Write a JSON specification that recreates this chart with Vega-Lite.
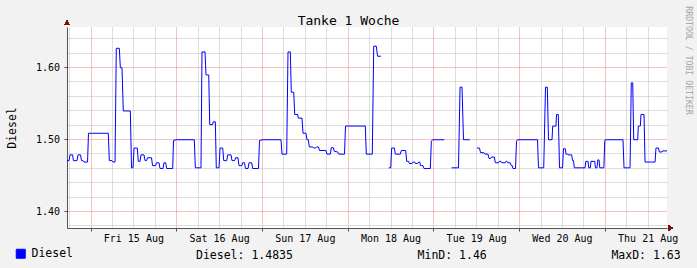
{
  "$schema": "https://vega.github.io/schema/vega-lite/v6.json",
  "width": 600,
  "height": 201,
  "autosize": {"type": "none"},
  "padding": {"left": 67, "top": 27, "right": 30, "bottom": 40},
  "background": "#f2f2f2",
  "config": {
    "view": {"stroke": null, "fill": "#ffffff"},
    "font": "DejaVu Sans Mono",
    "axis": {"labelFont": "DejaVu Sans Mono", "titleFont": "DejaVu Sans Mono", "titleFontWeight": "normal"}
  },
  "data": {
    "values": [
      {"t": "2014-08-14T17:25:00Z", "v": 1.47, "s": "A"},
      {"t": "2014-08-14T17:59:00Z", "v": 1.47, "s": "A"},
      {"t": "2014-08-14T18:16:00Z", "v": 1.478, "s": "A"},
      {"t": "2014-08-14T18:58:00Z", "v": 1.478, "s": "A"},
      {"t": "2014-08-14T19:14:00Z", "v": 1.47, "s": "A"},
      {"t": "2014-08-14T20:13:00Z", "v": 1.47, "s": "A"},
      {"t": "2014-08-14T20:30:00Z", "v": 1.478, "s": "A"},
      {"t": "2014-08-14T21:12:00Z", "v": 1.478, "s": "A"},
      {"t": "2014-08-14T21:29:00Z", "v": 1.47, "s": "A"},
      {"t": "2014-08-14T21:54:00Z", "v": 1.47, "s": "A"},
      {"t": "2014-08-14T22:11:00Z", "v": 1.468, "s": "A"},
      {"t": "2014-08-14T23:10:00Z", "v": 1.468, "s": "A"},
      {"t": "2014-08-14T23:26:00Z", "v": 1.508, "s": "A"},
      {"t": "2014-08-15T04:59:00Z", "v": 1.508, "s": "A"},
      {"t": "2014-08-15T05:16:00Z", "v": 1.47, "s": "A"},
      {"t": "2014-08-15T06:01:00Z", "v": 1.47, "s": "A"},
      {"t": "2014-08-15T06:18:00Z", "v": 1.468, "s": "A"},
      {"t": "2014-08-15T06:52:00Z", "v": 1.468, "s": "A"},
      {"t": "2014-08-15T07:13:00Z", "v": 1.626, "s": "A"},
      {"t": "2014-08-15T08:04:00Z", "v": 1.626, "s": "A"},
      {"t": "2014-08-15T08:21:00Z", "v": 1.599, "s": "A"},
      {"t": "2014-08-15T08:49:00Z", "v": 1.599, "s": "A"},
      {"t": "2014-08-15T09:11:00Z", "v": 1.539, "s": "A"},
      {"t": "2014-08-15T11:09:00Z", "v": 1.539, "s": "A"},
      {"t": "2014-08-15T11:29:00Z", "v": 1.46, "s": "A"},
      {"t": "2014-08-15T11:54:00Z", "v": 1.46, "s": "A"},
      {"t": "2014-08-15T12:11:00Z", "v": 1.4875, "s": "A"},
      {"t": "2014-08-15T13:06:00Z", "v": 1.4875, "s": "A"},
      {"t": "2014-08-15T13:23:00Z", "v": 1.469, "s": "A"},
      {"t": "2014-08-15T13:52:00Z", "v": 1.469, "s": "A"},
      {"t": "2014-08-15T14:08:00Z", "v": 1.478, "s": "A"},
      {"t": "2014-08-15T14:59:00Z", "v": 1.478, "s": "A"},
      {"t": "2014-08-15T15:16:00Z", "v": 1.47, "s": "A"},
      {"t": "2014-08-15T15:41:00Z", "v": 1.47, "s": "A"},
      {"t": "2014-08-15T15:58:00Z", "v": 1.474, "s": "A"},
      {"t": "2014-08-15T17:05:00Z", "v": 1.474, "s": "A"},
      {"t": "2014-08-15T17:22:00Z", "v": 1.463, "s": "A"},
      {"t": "2014-08-15T18:12:00Z", "v": 1.463, "s": "A"},
      {"t": "2014-08-15T18:29:00Z", "v": 1.467, "s": "A"},
      {"t": "2014-08-15T19:11:00Z", "v": 1.467, "s": "A"},
      {"t": "2014-08-15T19:28:00Z", "v": 1.459, "s": "A"},
      {"t": "2014-08-15T20:18:00Z", "v": 1.459, "s": "A"},
      {"t": "2014-08-15T20:35:00Z", "v": 1.467, "s": "A"},
      {"t": "2014-08-15T21:03:00Z", "v": 1.467, "s": "A"},
      {"t": "2014-08-15T21:20:00Z", "v": 1.459, "s": "A"},
      {"t": "2014-08-15T23:01:00Z", "v": 1.459, "s": "A"},
      {"t": "2014-08-15T23:14:00Z", "v": 1.498, "s": "A"},
      {"t": "2014-08-16T00:05:00Z", "v": 1.499, "s": "A"},
      {"t": "2014-08-16T05:04:00Z", "v": 1.499, "s": "A"},
      {"t": "2014-08-16T05:21:00Z", "v": 1.46, "s": "A"},
      {"t": "2014-08-16T06:56:00Z", "v": 1.46, "s": "A"},
      {"t": "2014-08-16T07:13:00Z", "v": 1.621, "s": "A"},
      {"t": "2014-08-16T08:04:00Z", "v": 1.621, "s": "A"},
      {"t": "2014-08-16T08:20:00Z", "v": 1.589, "s": "A"},
      {"t": "2014-08-16T09:06:00Z", "v": 1.589, "s": "A"},
      {"t": "2014-08-16T09:23:00Z", "v": 1.52, "s": "A"},
      {"t": "2014-08-16T10:13:00Z", "v": 1.52, "s": "A"},
      {"t": "2014-08-16T10:21:00Z", "v": 1.524, "s": "A"},
      {"t": "2014-08-16T10:57:00Z", "v": 1.524, "s": "A"},
      {"t": "2014-08-16T11:13:00Z", "v": 1.46, "s": "A"},
      {"t": "2014-08-16T11:59:00Z", "v": 1.46, "s": "A"},
      {"t": "2014-08-16T12:16:00Z", "v": 1.4875, "s": "A"},
      {"t": "2014-08-16T13:01:00Z", "v": 1.4875, "s": "A"},
      {"t": "2014-08-16T13:18:00Z", "v": 1.47, "s": "A"},
      {"t": "2014-08-16T14:08:00Z", "v": 1.47, "s": "A"},
      {"t": "2014-08-16T14:25:00Z", "v": 1.478, "s": "A"},
      {"t": "2014-08-16T15:20:00Z", "v": 1.478, "s": "A"},
      {"t": "2014-08-16T15:37:00Z", "v": 1.47, "s": "A"},
      {"t": "2014-08-16T16:23:00Z", "v": 1.47, "s": "A"},
      {"t": "2014-08-16T16:39:00Z", "v": 1.474, "s": "A"},
      {"t": "2014-08-16T17:18:00Z", "v": 1.474, "s": "A"},
      {"t": "2014-08-16T17:35:00Z", "v": 1.463, "s": "A"},
      {"t": "2014-08-16T18:20:00Z", "v": 1.463, "s": "A"},
      {"t": "2014-08-16T18:37:00Z", "v": 1.467, "s": "A"},
      {"t": "2014-08-16T19:07:00Z", "v": 1.467, "s": "A"},
      {"t": "2014-08-16T19:24:00Z", "v": 1.459, "s": "A"},
      {"t": "2014-08-16T20:06:00Z", "v": 1.459, "s": "A"},
      {"t": "2014-08-16T20:23:00Z", "v": 1.467, "s": "A"},
      {"t": "2014-08-16T21:08:00Z", "v": 1.467, "s": "A"},
      {"t": "2014-08-16T21:25:00Z", "v": 1.459, "s": "A"},
      {"t": "2014-08-16T23:02:00Z", "v": 1.459, "s": "A"},
      {"t": "2014-08-16T23:19:00Z", "v": 1.498, "s": "A"},
      {"t": "2014-08-17T00:18:00Z", "v": 1.499, "s": "A"},
      {"t": "2014-08-17T05:20:00Z", "v": 1.499, "s": "A"},
      {"t": "2014-08-17T05:37:00Z", "v": 1.479, "s": "A"},
      {"t": "2014-08-17T06:56:00Z", "v": 1.479, "s": "A"},
      {"t": "2014-08-17T07:18:00Z", "v": 1.621, "s": "A"},
      {"t": "2014-08-17T07:57:00Z", "v": 1.621, "s": "A"},
      {"t": "2014-08-17T08:13:00Z", "v": 1.565, "s": "A"},
      {"t": "2014-08-17T08:54:00Z", "v": 1.565, "s": "A"},
      {"t": "2014-08-17T09:11:00Z", "v": 1.534, "s": "A"},
      {"t": "2014-08-17T10:01:00Z", "v": 1.534, "s": "A"},
      {"t": "2014-08-17T10:11:00Z", "v": 1.529, "s": "A"},
      {"t": "2014-08-17T11:13:00Z", "v": 1.529, "s": "A"},
      {"t": "2014-08-17T11:30:00Z", "v": 1.508, "s": "A"},
      {"t": "2014-08-17T12:20:00Z", "v": 1.508, "s": "A"},
      {"t": "2014-08-17T12:37:00Z", "v": 1.499, "s": "A"},
      {"t": "2014-08-17T12:59:00Z", "v": 1.499, "s": "A"},
      {"t": "2014-08-17T13:16:00Z", "v": 1.489, "s": "A"},
      {"t": "2014-08-17T14:13:00Z", "v": 1.489, "s": "A"},
      {"t": "2014-08-17T14:26:00Z", "v": 1.4875, "s": "A"},
      {"t": "2014-08-17T15:00:00Z", "v": 1.4875, "s": "A"},
      {"t": "2014-08-17T15:17:00Z", "v": 1.489, "s": "A"},
      {"t": "2014-08-17T15:50:00Z", "v": 1.489, "s": "A"},
      {"t": "2014-08-17T16:07:00Z", "v": 1.484, "s": "A"},
      {"t": "2014-08-17T17:56:00Z", "v": 1.484, "s": "A"},
      {"t": "2014-08-17T18:13:00Z", "v": 1.479, "s": "A"},
      {"t": "2014-08-17T19:09:00Z", "v": 1.479, "s": "A"},
      {"t": "2014-08-17T19:25:00Z", "v": 1.488, "s": "A"},
      {"t": "2014-08-17T19:59:00Z", "v": 1.488, "s": "A"},
      {"t": "2014-08-17T20:16:00Z", "v": 1.483, "s": "A"},
      {"t": "2014-08-17T21:13:00Z", "v": 1.482, "s": "A"},
      {"t": "2014-08-17T21:30:00Z", "v": 1.479, "s": "A"},
      {"t": "2014-08-17T23:07:00Z", "v": 1.479, "s": "A"},
      {"t": "2014-08-17T23:24:00Z", "v": 1.518, "s": "A"},
      {"t": "2014-08-18T04:57:00Z", "v": 1.518, "s": "A"},
      {"t": "2014-08-18T05:13:00Z", "v": 1.479, "s": "A"},
      {"t": "2014-08-18T06:54:00Z", "v": 1.479, "s": "A"},
      {"t": "2014-08-18T07:18:00Z", "v": 1.629, "s": "A"},
      {"t": "2014-08-18T08:01:00Z", "v": 1.629, "s": "A"},
      {"t": "2014-08-18T08:22:00Z", "v": 1.615, "s": "A"},
      {"t": "2014-08-18T09:20:00Z", "v": 1.615, "s": "A"},
      {"t": "2014-08-18T11:30:00Z", "v": 1.46, "s": "B"},
      {"t": "2014-08-18T12:03:00Z", "v": 1.46, "s": "B"},
      {"t": "2014-08-18T12:20:00Z", "v": 1.4875, "s": "B"},
      {"t": "2014-08-18T13:04:00Z", "v": 1.4875, "s": "B"},
      {"t": "2014-08-18T13:21:00Z", "v": 1.479, "s": "B"},
      {"t": "2014-08-18T14:45:00Z", "v": 1.479, "s": "B"},
      {"t": "2014-08-18T15:01:00Z", "v": 1.484, "s": "B"},
      {"t": "2014-08-18T16:15:00Z", "v": 1.484, "s": "B"},
      {"t": "2014-08-18T16:32:00Z", "v": 1.469, "s": "B"},
      {"t": "2014-08-18T17:06:00Z", "v": 1.469, "s": "B"},
      {"t": "2014-08-18T17:16:00Z", "v": 1.466, "s": "B"},
      {"t": "2014-08-18T18:01:00Z", "v": 1.466, "s": "B"},
      {"t": "2014-08-18T18:18:00Z", "v": 1.468, "s": "B"},
      {"t": "2014-08-18T18:47:00Z", "v": 1.468, "s": "B"},
      {"t": "2014-08-18T19:00:00Z", "v": 1.466, "s": "B"},
      {"t": "2014-08-18T19:37:00Z", "v": 1.466, "s": "B"},
      {"t": "2014-08-18T19:54:00Z", "v": 1.468, "s": "B"},
      {"t": "2014-08-18T20:11:00Z", "v": 1.468, "s": "B"},
      {"t": "2014-08-18T20:24:00Z", "v": 1.463, "s": "B"},
      {"t": "2014-08-18T21:06:00Z", "v": 1.463, "s": "B"},
      {"t": "2014-08-18T21:23:00Z", "v": 1.459, "s": "B"},
      {"t": "2014-08-18T23:09:00Z", "v": 1.459, "s": "B"},
      {"t": "2014-08-18T23:26:00Z", "v": 1.497, "s": "B"},
      {"t": "2014-08-18T23:49:00Z", "v": 1.499, "s": "B"},
      {"t": "2014-08-19T03:04:00Z", "v": 1.499, "s": "B"},
      {"t": "2014-08-19T05:06:00Z", "v": 1.46, "s": "C"},
      {"t": "2014-08-19T07:02:00Z", "v": 1.46, "s": "C"},
      {"t": "2014-08-19T07:28:00Z", "v": 1.572, "s": "C"},
      {"t": "2014-08-19T08:01:00Z", "v": 1.572, "s": "C"},
      {"t": "2014-08-19T08:26:00Z", "v": 1.499, "s": "C"},
      {"t": "2014-08-19T10:11:00Z", "v": 1.499, "s": "C"},
      {"t": "2014-08-19T12:13:00Z", "v": 1.4875, "s": "D"},
      {"t": "2014-08-19T12:55:00Z", "v": 1.4875, "s": "D"},
      {"t": "2014-08-19T13:12:00Z", "v": 1.481, "s": "D"},
      {"t": "2014-08-19T14:11:00Z", "v": 1.481, "s": "D"},
      {"t": "2014-08-19T14:28:00Z", "v": 1.479, "s": "D"},
      {"t": "2014-08-19T15:18:00Z", "v": 1.479, "s": "D"},
      {"t": "2014-08-19T15:35:00Z", "v": 1.473, "s": "D"},
      {"t": "2014-08-19T16:03:00Z", "v": 1.473, "s": "D"},
      {"t": "2014-08-19T16:17:00Z", "v": 1.475, "s": "D"},
      {"t": "2014-08-19T17:04:00Z", "v": 1.475, "s": "D"},
      {"t": "2014-08-19T17:21:00Z", "v": 1.467, "s": "D"},
      {"t": "2014-08-19T18:18:00Z", "v": 1.467, "s": "D"},
      {"t": "2014-08-19T18:31:00Z", "v": 1.469, "s": "D"},
      {"t": "2014-08-19T18:56:00Z", "v": 1.469, "s": "D"},
      {"t": "2014-08-19T19:10:00Z", "v": 1.467, "s": "D"},
      {"t": "2014-08-19T20:07:00Z", "v": 1.467, "s": "D"},
      {"t": "2014-08-19T20:20:00Z", "v": 1.469, "s": "D"},
      {"t": "2014-08-19T20:37:00Z", "v": 1.469, "s": "D"},
      {"t": "2014-08-19T20:51:00Z", "v": 1.467, "s": "D"},
      {"t": "2014-08-19T21:33:00Z", "v": 1.467, "s": "D"},
      {"t": "2014-08-19T21:48:00Z", "v": 1.463, "s": "D"},
      {"t": "2014-08-19T22:05:00Z", "v": 1.463, "s": "D"},
      {"t": "2014-08-19T22:18:00Z", "v": 1.459, "s": "D"},
      {"t": "2014-08-19T23:00:00Z", "v": 1.459, "s": "D"},
      {"t": "2014-08-19T23:17:00Z", "v": 1.497, "s": "D"},
      {"t": "2014-08-19T23:34:00Z", "v": 1.499, "s": "D"},
      {"t": "2014-08-20T05:10:00Z", "v": 1.499, "s": "D"},
      {"t": "2014-08-20T05:26:00Z", "v": 1.46, "s": "D"},
      {"t": "2014-08-20T06:54:00Z", "v": 1.46, "s": "D"},
      {"t": "2014-08-20T07:24:00Z", "v": 1.572, "s": "D"},
      {"t": "2014-08-20T07:54:00Z", "v": 1.572, "s": "D"},
      {"t": "2014-08-20T08:14:00Z", "v": 1.499, "s": "D"},
      {"t": "2014-08-20T09:13:00Z", "v": 1.499, "s": "D"},
      {"t": "2014-08-20T09:25:00Z", "v": 1.518, "s": "D"},
      {"t": "2014-08-20T10:20:00Z", "v": 1.518, "s": "D"},
      {"t": "2014-08-20T10:29:00Z", "v": 1.534, "s": "D"},
      {"t": "2014-08-20T10:59:00Z", "v": 1.534, "s": "D"},
      {"t": "2014-08-20T11:19:00Z", "v": 1.46, "s": "D"},
      {"t": "2014-08-20T12:10:00Z", "v": 1.46, "s": "D"},
      {"t": "2014-08-20T12:26:00Z", "v": 1.4865, "s": "D"},
      {"t": "2014-08-20T12:57:00Z", "v": 1.4865, "s": "D"},
      {"t": "2014-08-20T13:08:00Z", "v": 1.479, "s": "D"},
      {"t": "2014-08-20T13:34:00Z", "v": 1.479, "s": "D"},
      {"t": "2014-08-20T13:42:00Z", "v": 1.478, "s": "D"},
      {"t": "2014-08-20T14:44:00Z", "v": 1.478, "s": "D"},
      {"t": "2014-08-20T14:58:00Z", "v": 1.47, "s": "D"},
      {"t": "2014-08-20T15:14:00Z", "v": 1.47, "s": "D"},
      {"t": "2014-08-20T15:28:00Z", "v": 1.46, "s": "D"},
      {"t": "2014-08-20T18:28:00Z", "v": 1.46, "s": "D"},
      {"t": "2014-08-20T18:41:00Z", "v": 1.469, "s": "D"},
      {"t": "2014-08-20T19:18:00Z", "v": 1.469, "s": "D"},
      {"t": "2014-08-20T19:30:00Z", "v": 1.46, "s": "D"},
      {"t": "2014-08-20T19:57:00Z", "v": 1.46, "s": "D"},
      {"t": "2014-08-20T20:08:00Z", "v": 1.469, "s": "D"},
      {"t": "2014-08-20T21:11:00Z", "v": 1.469, "s": "D"},
      {"t": "2014-08-20T21:22:00Z", "v": 1.46, "s": "D"},
      {"t": "2014-08-20T21:49:00Z", "v": 1.46, "s": "D"},
      {"t": "2014-08-20T22:03:00Z", "v": 1.471, "s": "D"},
      {"t": "2014-08-20T22:23:00Z", "v": 1.471, "s": "D"},
      {"t": "2014-08-20T22:36:00Z", "v": 1.46, "s": "D"},
      {"t": "2014-08-20T23:44:00Z", "v": 1.46, "s": "D"},
      {"t": "2014-08-21T00:00:00Z", "v": 1.498, "s": "D"},
      {"t": "2014-08-21T00:20:00Z", "v": 1.499, "s": "D"},
      {"t": "2014-08-21T05:06:00Z", "v": 1.499, "s": "D"},
      {"t": "2014-08-21T05:23:00Z", "v": 1.46, "s": "D"},
      {"t": "2014-08-21T07:04:00Z", "v": 1.46, "s": "D"},
      {"t": "2014-08-21T07:25:00Z", "v": 1.578, "s": "D"},
      {"t": "2014-08-21T07:49:00Z", "v": 1.578, "s": "D"},
      {"t": "2014-08-21T08:06:00Z", "v": 1.499, "s": "D"},
      {"t": "2014-08-21T09:13:00Z", "v": 1.499, "s": "D"},
      {"t": "2014-08-21T09:23:00Z", "v": 1.518, "s": "D"},
      {"t": "2014-08-21T09:57:00Z", "v": 1.518, "s": "D"},
      {"t": "2014-08-21T10:08:00Z", "v": 1.534, "s": "D"},
      {"t": "2014-08-21T10:59:00Z", "v": 1.534, "s": "D"},
      {"t": "2014-08-21T11:16:00Z", "v": 1.468, "s": "D"},
      {"t": "2014-08-21T14:04:00Z", "v": 1.468, "s": "D"},
      {"t": "2014-08-21T14:20:00Z", "v": 1.4875, "s": "D"},
      {"t": "2014-08-21T15:02:00Z", "v": 1.4875, "s": "D"},
      {"t": "2014-08-21T15:16:00Z", "v": 1.482, "s": "D"},
      {"t": "2014-08-21T16:01:00Z", "v": 1.482, "s": "D"},
      {"t": "2014-08-21T16:13:00Z", "v": 1.4835, "s": "D"},
      {"t": "2014-08-21T17:25:00Z", "v": 1.4835, "s": "D"}
    ]
  },
  "layer": [
    {
      "mark": {"type": "line", "opacity": 0},
      "encoding": {
        "x": {
          "field": "t", "type": "temporal",
          "scale": {"type": "utc", "domain": [{"year": 2014, "month": 8, "date": 14, "hours": 17, "minutes": 25, "utc": true}, {"year": 2014, "month": 8, "date": 21, "hours": 17, "minutes": 25, "utc": true}]},
          "axis": {
            "orient": "top",
            "values": [
              {"year": 2014, "month": 8, "date": 14, "hours": 18, "utc": true},
              {"year": 2014, "month": 8, "date": 15, "hours": 6, "utc": true},
              {"year": 2014, "month": 8, "date": 15, "hours": 12, "utc": true},
              {"year": 2014, "month": 8, "date": 15, "hours": 18, "utc": true},
              {"year": 2014, "month": 8, "date": 16, "hours": 6, "utc": true},
              {"year": 2014, "month": 8, "date": 16, "hours": 12, "utc": true},
              {"year": 2014, "month": 8, "date": 16, "hours": 18, "utc": true},
              {"year": 2014, "month": 8, "date": 17, "hours": 6, "utc": true},
              {"year": 2014, "month": 8, "date": 17, "hours": 12, "utc": true},
              {"year": 2014, "month": 8, "date": 17, "hours": 18, "utc": true},
              {"year": 2014, "month": 8, "date": 18, "hours": 6, "utc": true},
              {"year": 2014, "month": 8, "date": 18, "hours": 12, "utc": true},
              {"year": 2014, "month": 8, "date": 18, "hours": 18, "utc": true},
              {"year": 2014, "month": 8, "date": 19, "hours": 6, "utc": true},
              {"year": 2014, "month": 8, "date": 19, "hours": 12, "utc": true},
              {"year": 2014, "month": 8, "date": 19, "hours": 18, "utc": true},
              {"year": 2014, "month": 8, "date": 20, "hours": 6, "utc": true},
              {"year": 2014, "month": 8, "date": 20, "hours": 12, "utc": true},
              {"year": 2014, "month": 8, "date": 20, "hours": 18, "utc": true},
              {"year": 2014, "month": 8, "date": 21, "hours": 6, "utc": true},
              {"year": 2014, "month": 8, "date": 21, "hours": 12, "utc": true}
            ],
            "grid": true, "gridColor": "#bdbdbd", "gridDash": [1, 1], "gridWidth": 1, "gridOpacity": 1,
            "ticks": false, "labels": false, "domain": false,
            "title": "Tanke 1 Woche",
            "titleFontSize": 13, "titleColor": "#000000",
            "titleX": 281, "titleY": -3, "titleAlign": "center", "titleBaseline": "alphabetic", "titleAngle": 0
          }
        },
        "y": {
          "field": "v", "type": "quantitative",
          "scale": {"domain": [1.3764, 1.6556], "zero": false, "nice": false},
          "axis": {
            "orient": "right",
            "values": [1.38, 1.42, 1.44, 1.46, 1.48, 1.52, 1.54, 1.56, 1.58, 1.62, 1.64],
            "grid": true, "gridColor": "#bdbdbd", "gridDash": [1, 1], "gridWidth": 1, "gridOpacity": 1,
            "ticks": false, "labels": false, "domain": false,
            "title": "RRDTOOL / TOBI OETIKER",
            "titleFontSize": 8.2, "titleColor": "#a6a6a6",
            "titleAngle": 90, "titleX": 18.5, "titleY": 33, "titleAlign": "center", "titleBaseline": "alphabetic"
          }
        },
        "detail": {"field": "s", "type": "nominal"}
      }
    },
    {
      "mark": {"type": "line", "strokeWidth": 1},
      "encoding": {
        "x": {
          "field": "t", "type": "temporal",
          "scale": {"type": "utc", "domain": [{"year": 2014, "month": 8, "date": 14, "hours": 17, "minutes": 25, "utc": true}, {"year": 2014, "month": 8, "date": 21, "hours": 17, "minutes": 25, "utc": true}]},
          "axis": {
            "orient": "bottom",
            "values": [
              {"year": 2014, "month": 8, "date": 15, "utc": true},
              {"year": 2014, "month": 8, "date": 16, "utc": true},
              {"year": 2014, "month": 8, "date": 17, "utc": true},
              {"year": 2014, "month": 8, "date": 18, "utc": true},
              {"year": 2014, "month": 8, "date": 19, "utc": true},
              {"year": 2014, "month": 8, "date": 20, "utc": true},
              {"year": 2014, "month": 8, "date": 21, "utc": true}
            ],
            "grid": true, "gridColor": "#f08080", "gridDash": [1, 1], "gridWidth": 1, "gridOpacity": 1,
            "format": "%a %d %b",
            "labelOffset": 42.86, "labelFontSize": 10, "labelColor": "#000000", "labelPadding": 2.5,
            "labelOverlap": false, "labelFlush": false, "labelBound": false,
            "tickSize": 3, "tickColor": "#555555", "domainColor": "#555555",
            "title": "Diesel: 1.4835\u00a0\u00a0\u00a0\u00a0\u00a0\u00a0\u00a0\u00a0\u00a0\u00a0\u00a0\u00a0\u00a0\u00a0\u00a0\u00a0\u00a0\u00a0MinD: 1.46\u00a0\u00a0\u00a0\u00a0\u00a0\u00a0\u00a0\u00a0\u00a0\u00a0\u00a0\u00a0\u00a0\u00a0\u00a0\u00a0\u00a0\u00a0MaxD: 1.63",
            "titleFontSize": 11.5, "titleColor": "#000000",
            "titleX": 128.5, "titleY": 30, "titleAlign": "left", "titleBaseline": "alphabetic"
          }
        },
        "y": {
          "field": "v", "type": "quantitative",
          "scale": {"domain": [1.3764, 1.6556], "zero": false, "nice": false},
          "axis": {
            "orient": "left",
            "values": [1.4, 1.5, 1.6],
            "grid": true, "gridColor": "#f08080", "gridDash": [1, 1], "gridWidth": 1, "gridOpacity": 1,
            "format": ".2f",
            "labelFontSize": 10, "labelColor": "#000000", "labelPadding": 4.5,
            "tickSize": 3, "tickColor": "#555555", "domainColor": "#555555",
            "title": "Diesel",
            "titleFontSize": 11.5, "titleColor": "#000000",
            "titleX": -52, "titleY": 100.5, "titleAlign": "center", "titleBaseline": "alphabetic", "titleAngle": -90
          }
        },
        "detail": {"field": "s", "type": "nominal"},
        "color": {
          "datum": "Diesel", "type": "nominal",
          "scale": {"domain": ["Diesel"], "range": ["#0000ff"]},
          "legend": {
            "orient": "none", "legendX": -52, "legendY": 221, "title": null, "padding": 0,
            "symbolType": "square", "symbolSize": 81, "symbolStrokeWidth": 1,
            "labelFont": "DejaVu Sans Mono", "labelFontSize": 11.5, "labelColor": "#000000", "labelOffset": 5,
            "encode": {"symbols": {"update": {"fill": {"value": "#0000ff"}, "stroke": {"value": "#000000"}, "strokeWidth": {"value": 1}, "opacity": {"value": 1}}}}
          }
        }
      }
    },
    {
      "mark": {"type": "point", "shape": "triangle-up", "filled": true, "color": "#7f1010", "size": 22, "opacity": 1, "clip": false},
      "encoding": {
        "x": {"datum": {"year": 2014, "month": 8, "date": 14, "hours": 17, "minutes": 25, "utc": true}, "type": "temporal", "axis": null},
        "y": {"datum": 1.6615, "type": "quantitative", "axis": null}
      }
    },
    {
      "mark": {"type": "point", "shape": "triangle-right", "filled": true, "color": "#7f1010", "size": 22, "opacity": 1, "clip": false},
      "encoding": {
        "x": {"datum": {"year": 2014, "month": 8, "date": 21, "hours": 18, "minutes": 30, "utc": true}, "type": "temporal", "axis": null},
        "y": {"datum": 1.3764, "type": "quantitative", "axis": null}
      }
    }
  ],
  "resolve": {"axis": {"x": "independent", "y": "independent"}}
}
